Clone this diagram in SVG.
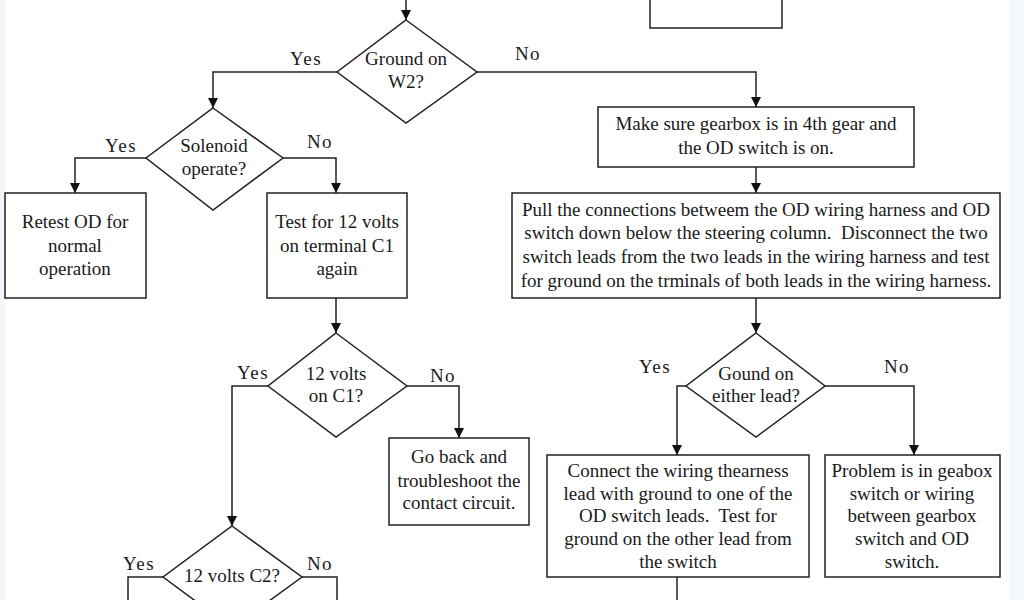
<svg xmlns="http://www.w3.org/2000/svg" width="1024" height="600" viewBox="0 0 1024 600">
<defs>
<style>
.s{fill:#fff;stroke:#222;stroke-width:1.5}
.c{fill:none;stroke:#222;stroke-width:1.5}
text{font-family:"Liberation Serif","Times New Roman",serif;font-size:19px;fill:#1a1a1a;text-anchor:middle}
.y{letter-spacing:1.5px}
</style>
<marker id="a" viewBox="0 0 10 10" refX="10" refY="5" markerWidth="10" markerHeight="10" markerUnits="userSpaceOnUse" orient="auto">
<path d="M0,0L10,5L0,10z" fill="#111"/>
</marker>
</defs>
<rect width="1024" height="600" fill="#fff"/>
<rect x="0" y="0" width="5" height="600" fill="#f1f6fa"/>
<rect x="1010" y="0" width="14" height="600" fill="#f3f8fa"/>
<g id="connectors">
<path class="c" d="M406,0V20" marker-end="url(#a)"/>
<path class="c" d="M337,72H213V108" marker-end="url(#a)"/>
<path class="c" d="M477,72H756V107" marker-end="url(#a)"/>
<path class="c" d="M756,167V193" marker-end="url(#a)"/>
<path class="c" d="M756,298V333" marker-end="url(#a)"/>
<path class="c" d="M686,386H677V455" marker-end="url(#a)"/>
<path class="c" d="M825,386H914V455" marker-end="url(#a)"/>
<path class="c" d="M677,577V600"/>
<path class="c" d="M146,158H75V193" marker-end="url(#a)"/>
<path class="c" d="M283,158H336V193" marker-end="url(#a)"/>
<path class="c" d="M336,298V333" marker-end="url(#a)"/>
<path class="c" d="M268,386H232V526" marker-end="url(#a)"/>
<path class="c" d="M407,386H459V438" marker-end="url(#a)"/>
<path class="c" d="M163,577H128V600"/>
<path class="c" d="M302,577H337V600"/>
<text class="y" x="306" y="65">Yes</text>
<text class="y" x="528" y="60">No</text>
<text class="y" x="121" y="152">Yes</text>
<text class="y" x="320" y="148">No</text>
<text class="y" x="253" y="379">Yes</text>
<text class="y" x="443" y="382">No</text>
<text class="y" x="139" y="570">Yes</text>
<text class="y" x="320" y="570">No</text>
<text class="y" x="655" y="373">Yes</text>
<text class="y" x="897" y="373">No</text>
</g>
<g id="top-box"><rect class="s" x="650" y="-10" width="132" height="38"/></g>
<g id="ground-w2">
<polygon class="s" points="406,20 477,72 406,123 337,72"/>
<text x="406" y="65">Ground on</text>
<text x="406" y="88">W2?</text>
</g>
<g id="solenoid">
<polygon class="s" points="213,108 283,158 213,210 146,158"/>
<text x="214" y="152">Solenoid</text>
<text x="214" y="175">operate?</text>
</g>
<g id="retest">
<rect class="s" x="5" y="193" width="141" height="105"/>
<text x="75" y="228">Retest OD for</text>
<text x="75" y="252">normal</text>
<text x="75" y="275">operation</text>
</g>
<g id="test-c1">
<rect class="s" x="267" y="193" width="140" height="105"/>
<text x="337" y="228">Test for 12 volts</text>
<text x="337" y="252">on terminal C1</text>
<text x="337" y="275">again</text>
</g>
<g id="volts-c1">
<polygon class="s" points="336,333 407,386 336,437 268,386"/>
<text x="336" y="380">12 volts</text>
<text x="336" y="402">on C1?</text>
</g>
<g id="go-back">
<rect class="s" x="389" y="438" width="140" height="87"/>
<text x="459" y="463">Go back and</text>
<text x="459" y="487">troubleshoot the</text>
<text x="459" y="509">contact circuit.</text>
</g>
<g id="volts-c2">
<polygon class="s" points="232,526 302,577 232,628 163,577"/>
<text x="232" y="582">12 volts C2?</text>
</g>
<g id="gearbox">
<rect class="s" x="598" y="107" width="316" height="60"/>
<text x="756" y="130">Make sure gearbox is in 4th gear and</text>
<text x="756" y="154">the OD switch is on.</text>
</g>
<g id="pull">
<rect class="s" x="512" y="193" width="488" height="105"/>
<text x="756" y="216">Pull the connections betweem the OD wiring harness and OD</text>
<text x="756" y="239">switch down below the steering column.&#160; Disconnect the two</text>
<text x="756" y="263">switch leads from the two leads in the wiring harness and test</text>
<text x="756" y="287">for ground on the trminals of both leads in the wiring harness.</text>
</g>
<g id="either-lead">
<polygon class="s" points="756,333 825,386 756,437 686,386"/>
<text x="756" y="380">Gound on</text>
<text x="756" y="402">either lead?</text>
</g>
<g id="connect">
<rect class="s" x="547" y="455" width="262" height="122"/>
<text x="678" y="477">Connect the wiring thearness</text>
<text x="678" y="500">lead with ground to one of the</text>
<text x="678" y="522">OD switch leads.&#160; Test for</text>
<text x="678" y="545">ground on the other lead from</text>
<text x="678" y="568">the switch</text>
</g>
<g id="problem">
<rect class="s" x="825" y="455" width="175" height="122"/>
<text x="912" y="477">Problem is in geabox</text>
<text x="912" y="500">switch or wiring</text>
<text x="912" y="522">between gearbox</text>
<text x="912" y="545">switch and OD</text>
<text x="912" y="568">switch.</text>
</g>
</svg>
